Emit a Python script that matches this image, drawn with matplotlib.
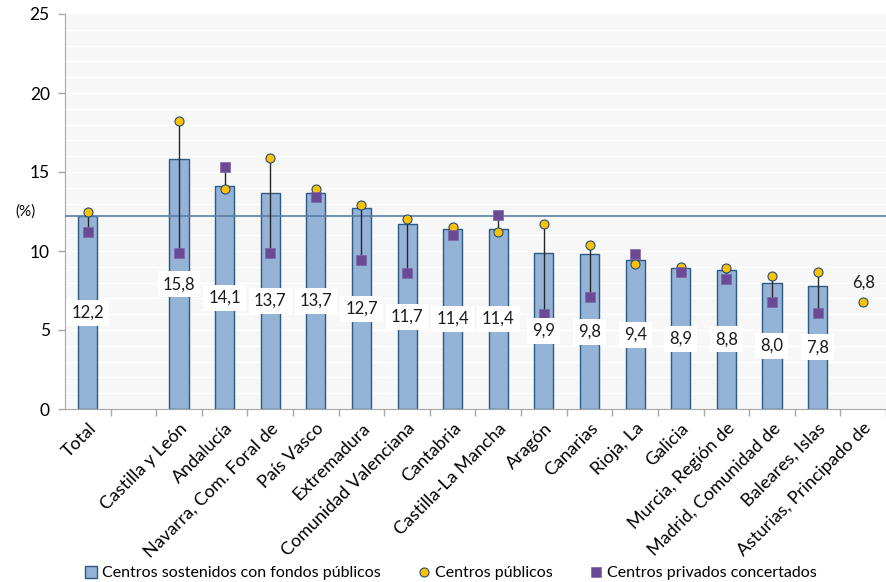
import numpy as np
import matplotlib
matplotlib.use("Agg")
import matplotlib.pyplot as plt
from matplotlib.lines import Line2D

plt.rcParams['font.family'] = ['Lato', 'DejaVu Sans']

# data
regions = ["Total", "", "Castilla y León", "Andalucía", "Navarra, Com. Foral de",
           "País Vasco", "Extremadura", "Comunidad Valenciana", "Cantabria",
           "Castilla-La Mancha", "Aragón", "Canarias", "Rioja, La", "Galicia",
           "Murcia, Región de", "Madrid, Comunidad de", "Baleares, Islas",
           "Asturias, Principado de"]
sostenidos = [12.2, np.nan, 15.8, 14.1, 13.7, 13.7, 12.7, 11.7, 11.4, 11.4,
              9.9, 9.8, 9.4, 8.9, 8.8, 8.0, 7.8, np.nan]
publicos = [12.5, np.nan, 18.2, 13.9, 15.9, 13.9, 12.9, 12.0, 11.5, 11.2,
            11.7, 10.4, 9.2, 9.0, 8.9, 8.4, 8.7, 6.8]
privados = [11.2, np.nan, 9.9, 15.3, 9.9, 13.4, 9.4, 8.6, 11.0, 12.3,
            6.0, 7.1, 9.8, 8.7, 8.2, 6.8, 6.1, np.nan]
total_ref = 12.2

x = np.arange(len(regions))
sost = np.array(sostenidos)
pub = np.array(publicos)
priv = np.array(privados)

fig = plt.figure(figsize=(8.86, 5.82), dpi=100)
ax = fig.add_axes([65/886, 1-409/582, 821/886, (409-14)/582])
ax.set_facecolor("#f7f7f7")

# white minor grid every unit
for yy in range(1, 25):
    ax.axhline(yy, color="white", lw=1.0, zorder=0)

ax.bar(x, sost, width=0.42, color="#95b3d7", edgecolor="#2d5a80", linewidth=1.0, zorder=2)
ax.axhline(total_ref, color="#5b7fa6", lw=1.2, zorder=3)

# high-low lines between the two markers
for xi, a, b in zip(x, pub, priv):
    if not (np.isnan(a) or np.isnan(b)):
        ax.plot([xi, xi], [a, b], color="#262626", lw=1.0, zorder=4)

ax.plot(x, pub, 'o', ms=6.5, mfc="#ffc000", mec="#1f4e79", mew=0.8, ls='none', zorder=5)
ax.plot(x, priv, 's', ms=7, mfc="#6a4a94", mec="#7e64a8", mew=0.5, ls='none', zorder=5)

# value labels
for xi, v in zip(x, sost):
    if not np.isnan(v):
        ax.text(xi, v/2, f"{v:.1f}".replace(".", ","), ha="center", va="center",
                fontsize=12, color="#1a1a1a", zorder=6,
                bbox=dict(boxstyle="square,pad=0.3", fc="white", ec="none"))
ax.annotate(f"{pub[-1]:.1f}".replace(".", ","), (x[-1], pub[-1]), xytext=(0, 8),
            textcoords="offset points", ha="center", va="bottom", fontsize=12,
            color="#1a1a1a", zorder=6)

ax.set_xlim(-0.5, -0.5 + 821/45.76)
ax.set_ylim(0, 25)
ax.set_yticks([0, 5, 10, 15, 20, 25])
ax.tick_params(axis='y', labelsize=12.5, length=5, color="#a6a6a6", width=1, pad=6)
ax.set_xticks(x)
ax.set_xticklabels(regions, rotation=45, ha="right", rotation_mode="anchor", fontsize=13)
ax.tick_params(axis='x', length=0, pad=8)
ax.set_xticks(np.arange(len(regions)) + 0.5, minor=True)
ax.tick_params(axis='x', which='minor', length=5, color="#a6a6a6", width=1)

for s in ["top", "right"]:
    ax.spines[s].set_visible(False)
ax.spines["left"].set_color("#a6a6a6")
ax.spines["bottom"].set_color("#a6a6a6")

fig.text(15/886, 1-212/582, "(%)", ha="left", va="center", fontsize=11)

handles = [
    Line2D([], [], marker='s', ls='none', ms=8, mfc="#95b3d7", mec="#2d5a80", mew=1.0),
    Line2D([], [], marker='o', ls='none', ms=6.5, mfc="#ffc000", mec="#1f4e79", mew=0.8),
    Line2D([], [], marker='s', ls='none', ms=7, mfc="#6a4a94", mec="#7e64a8", mew=0.5),
]
fig.legend(handles, ["Centros sostenidos con fondos públicos", "Centros públicos",
                     "Centros privados concertados"],
           loc="center", bbox_to_anchor=(450/886, 1-573/582), ncol=3, frameon=False,
           fontsize=11.5, handletextpad=0.2, columnspacing=2.2, handlelength=1.0)

fig.savefig("out.png", dpi=100)
